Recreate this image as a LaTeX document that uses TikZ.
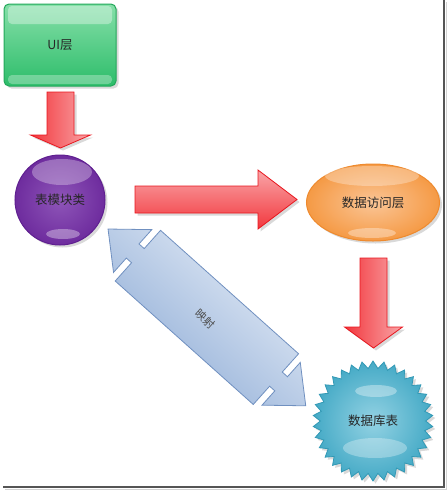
\documentclass[tikz,border=0pt]{standalone}
\usepackage{fontspec}
\setmainfont{Noto Sans CJK SC}
\usetikzlibrary{shapes.geometric,shadows}

\definecolor{uigreen}{HTML}{2DBD6A}
\definecolor{uilight}{HTML}{86DFA9}
\definecolor{uiedge}{HTML}{22A85A}
\definecolor{arrowred}{HTML}{F2373D}
\definecolor{arrowedge}{HTML}{E8161E}
\definecolor{ballpurple}{HTML}{6E2C9E}
\definecolor{balllight}{HTML}{8E55B8}
\definecolor{balledge}{HTML}{5F1F90}
\definecolor{eggorange}{HTML}{F59A45}
\definecolor{egglight}{HTML}{FAC596}
\definecolor{eggedge}{HTML}{EE8A2E}
\definecolor{burstteal}{HTML}{45AAC6}
\definecolor{burstlight}{HTML}{93D2E3}
\definecolor{burstedge}{HTML}{3399B5}
\definecolor{mapdark}{HTML}{8EACD6}
\definecolor{maplight}{HTML}{E6EDF7}
\definecolor{mapedge}{HTML}{7090C0}
\definecolor{framegray}{HTML}{555555}

\tikzset{
  shape text/.style={font=\fontsize{12.5}{15}\selectfont, text=black!85},
  soft shadow/.style={drop shadow={opacity=0.3, shadow xshift=2.5pt, shadow yshift=-2.5pt}},
  uibox/.style={shape text, rectangle, rounded corners=5pt, draw=uiedge, line width=1pt,
    top color=uilight, bottom color=uigreen, minimum width=112pt, minimum height=82pt, soft shadow},
  sphere/.style={shape text, circle, draw=balledge, line width=1pt, inner color=balllight,
    outer color=ballpurple, minimum size=90pt, soft shadow},
  egg/.style={shape text, ellipse, draw=eggedge, line width=1pt, inner color=egglight,
    outer color=eggorange, minimum width=133pt, minimum height=77pt, soft shadow},
  burst/.style={shape text, star, star points=34, star point ratio=1.14, draw=burstedge,
    line width=0.8pt, inner color=burstlight, outer color=burstteal, minimum size=120pt,
    inner sep=0pt, soft shadow},
  downarrow/.style={draw=arrowedge, line width=0.8pt, left color=arrowred,
    right color=arrowred!45!white, soft shadow},
  rightarrow/.style={draw=arrowedge, line width=0.8pt, top color=arrowred!45!white,
    bottom color=arrowred, soft shadow},
  maparrow/.style={draw=mapedge, line width=0.8pt, top color=maplight, bottom color=mapdark,
    shading angle=-41.8},
  gloss/.style={fill=white, opacity=0.35},
}

\begin{document}
\begin{tikzpicture}[x=1pt,y=1pt]
  \useasboundingbox (0,0) rectangle (448,-491);

  % frame
  \draw[gray!35, line width=1.5pt] (446.5,-2) -- (446.5,-489.5) -- (5,-489.5);
  \draw[framegray, line width=1.5pt] (444,0) -- (444,-487) -- (3,-487);

  % nodes
  \node[uibox] (ui) at (60,-45) {UI层};
  \fill[gloss, rounded corners=4pt] (8,-6) rectangle (112,-24);
  \fill[gloss, opacity=0.3, rounded corners=4pt] (8,-75) rectangle (112,-84);

  \node[sphere] (tbl) at (60,-200) {表模块类};
  \fill[gloss, opacity=0.3] (62,-172) ellipse [x radius=30pt, y radius=13pt];
  \fill[gloss] (63,-234) ellipse [x radius=17pt, y radius=5pt];

  \node[egg] (dal) at (373,-202.5) {数据访问层};
  \fill[gloss, opacity=0.3] (372,-176) ellipse [x radius=47pt, y radius=10pt];
  \fill[gloss] (372,-233) ellipse [x radius=24pt, y radius=5pt];

  \node[burst] (db) at (373,-421) {数据库表};
  \fill[gloss] (376,-391) ellipse [x radius=21pt, y radius=6pt];
  \fill[gloss, opacity=0.3] (375,-448) ellipse [x radius=32pt, y radius=10pt];

  % red block arrows
  \begin{scope}[shift={(60.5,-92)}]
    \draw[downarrow] (-13.5,0) -- (13.5,0) -- (13.5,-43) -- (30,-43) -- (0,-56) -- (-30,-43) -- (-13.5,-43) -- cycle;
  \end{scope}

  \begin{scope}[shift={(135,-199.5)}]
    \draw[rightarrow] (0,13.5) -- (123,13.5) -- (123,29.5) -- (162,0) -- (123,-29.5) -- (123,-13.5) -- (0,-13.5) -- cycle;
  \end{scope}

  \begin{scope}[shift={(373.5,-258)}]
    \draw[downarrow] (-13.5,0) -- (13.5,0) -- (13.5,-69) -- (29,-69) -- (0,-90) -- (-29,-69) -- (-13.5,-69) -- cycle;
  \end{scope}

  % mapping double arrow
  \begin{scope}[shift={(206.9,-317.4)}, rotate=-41.8]
    \draw[maparrow] (-132.6,0) -- (-99.6,28.7) -- (-99.6,9.5) -- (-92.6,9.5) -- (-92.6,34)
      -- (92.6,34) -- (92.6,9.5) -- (99.6,9.5) -- (99.6,28.7) -- (132.6,0)
      -- (99.6,-28.7) -- (99.6,-9.5) -- (92.6,-9.5) -- (92.6,-34)
      -- (-92.6,-34) -- (-92.6,-9.5) -- (-99.6,-9.5) -- (-99.6,-28.7) -- cycle;
    \node[font=\fontsize{11}{13}\selectfont, text=black!70, inner sep=0pt, rotate=-41.8] (map) at (0,-2) {映射};
  \end{scope}
\end{tikzpicture}
\end{document}
